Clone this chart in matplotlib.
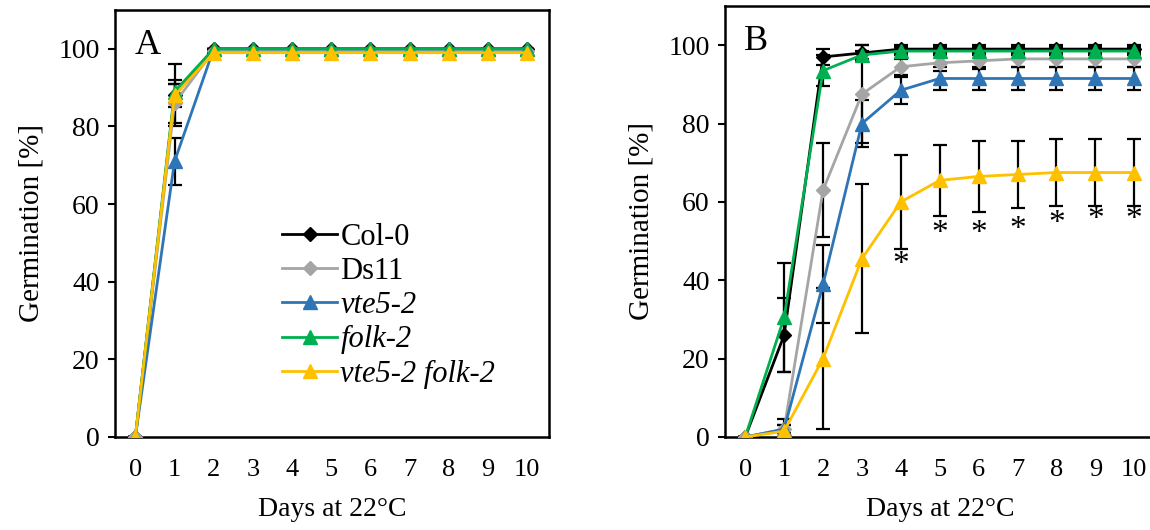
import matplotlib
matplotlib.use("Agg")
import matplotlib.pyplot as plt
import numpy as np

plt.rcParams['font.family'] = ['Liberation Serif', 'DejaVu Serif']

days = list(range(11))
series_names = ["Col-0", "Ds11", "vte5-2", "folk-2", "vte5-2 folk-2"]
italic = [False, False, True, True, True]
colors = ["#000000", "#A5A5A5", "#2E75B6", "#00B050", "#FFC000"]
markers = ["D", "D", "^", "^", "^"]

# Panel A values
a_col0 = [0, 88, 100, 100, 100, 100, 100, 100, 100, 100, 100]
a_ds11 = [0, 86, 99.5, 99.5, 99.5, 99.5, 99.5, 99.5, 99.5, 99.5, 99.5]
a_vte5 = [0, 71, 100, 100, 100, 100, 100, 100, 100, 100, 100]
a_folk = [0, 89, 100, 100, 100, 100, 100, 100, 100, 100, 100]
a_double = [0, 88, 99, 99, 99, 99, 99, 99, 99, 99, 99]
a_col0_err = [0, 8, 0, 0, 0, 0, 0, 0, 0, 0, 0]
a_ds11_err = [0, 5, 0, 0, 0, 0, 0, 0, 0, 0, 0]
a_vte5_err = [0, 6, 0, 0, 0, 0, 0, 0, 0, 0, 0]
a_folk_err = [0, 3, 0, 0, 0, 0, 0, 0, 0, 0, 0]
a_double_err = [0, 3, 0, 0, 0, 0, 0, 0, 0, 0, 0]

# Panel B values
b_col0 = [0, 26, 97, 98, 99, 99, 99, 99, 99, 99, 99]
b_ds11 = [0, 2, 63, 87.5, 94.5, 95.5, 96, 96.5, 96.5, 96.5, 96.5]
b_vte5 = [0, 2, 39, 80, 88.5, 91.5, 91.5, 91.5, 91.5, 91.5, 91.5]
b_folk = [0, 30.5, 93.5, 97.5, 98.5, 98.5, 98.5, 98.5, 98.5, 98.5, 98.5]
b_double = [0, 1.5, 20, 45.5, 60, 65.5, 66.5, 67, 67.5, 67.5, 67.5]
b_col0_err = [0, 9.5, 2, 2, 1, 1, 1, 1, 1, 1, 1]
b_ds11_err = [0, 1, 12, 12.5, 2, 2, 2, 2, 2, 2, 2]
b_vte5_err = [0, 1, 10, 6, 3.5, 3, 3, 3, 3, 3, 3]
b_folk_err = [0, 14, 4, 1, 1, 1, 1, 1, 1, 1, 1]
b_double_err = [0, 3, 18, 19, 12, 9, 9, 8.5, 8.5, 8.5, 8.5]

# significance asterisks (day, y position in %)
star_days = [4, 5, 6, 7, 8, 9, 10]
star_y = [44, 52, 52, 53, 54.5, 55.5, 55.5]

yticks = [0, 20, 40, 60, 80, 100]

fig = plt.figure(figsize=(11.5, 5.3), dpi=100)
axA = fig.add_axes([115/1150, 93/530, 434/1150, 427/530])
axB = fig.add_axes([725/1150, 93/530, 431/1150, 431/530])

A_vals = [a_col0, a_ds11, a_vte5, a_folk, a_double]
A_errs = [a_col0_err, a_ds11_err, a_vte5_err, a_folk_err, a_double_err]
B_vals = [b_col0, b_ds11, b_vte5, b_folk, b_double]
B_errs = [b_col0_err, b_ds11_err, b_vte5_err, b_folk_err, b_double_err]

FS = 21

def draw(ax, vals, errs, letter):
    handles = []
    for v, e in zip(vals, errs):
        ax.errorbar(days, v, yerr=e, fmt='none', ecolor='black', elinewidth=1.6,
                    capsize=5, capthick=1.6, zorder=2)
    for v, c, m, n in zip(vals, colors, markers, series_names):
        ms = 7 if m == 'D' else 9.5
        h, = ax.plot(days, v, color=c, marker=m, markersize=ms, linewidth=2,
                     markeredgecolor=c, zorder=3, label=n)
        handles.append(h)
    ax.set_xlim(-0.52, 10.56)
    ax.set_ylim(0, 110)
    ax.set_yticks(yticks)
    ax.set_xticks(days)
    ax.tick_params(axis='x', length=0, pad=16, labelsize=FS - 2)
    ax.tick_params(axis='y', length=5, width=1.5, pad=6, labelsize=FS - 1, direction='out')
    for s in ax.spines.values():
        s.set_linewidth(1.8)
    ax.set_xlabel("Days at 22°C", fontsize=FS - 1, labelpad=11)
    ax.set_ylabel("Germination [%]", fontsize=FS, labelpad=10)
    ax.text(0.045, 0.955, letter, transform=ax.transAxes, fontsize=26,
            ha='left', va='top')
    return handles

hA = draw(axA, A_vals, A_errs, "A")
hB = draw(axB, B_vals, B_errs, "B")

for d, y in zip(star_days, star_y):
    axB.text(d, y, "*", ha='center', va='center', fontsize=24)

leg = axA.legend(hA, series_names, loc='upper left', bbox_to_anchor=(0.336, 0.552),
                 frameon=False, fontsize=22, handlelength=1.8, handletextpad=0.1,
                 labelspacing=0.17, borderpad=0.2)
for t, it in zip(leg.get_texts(), italic):
    if it:
        t.set_style('italic')

fig.savefig("out.png", dpi=100)
